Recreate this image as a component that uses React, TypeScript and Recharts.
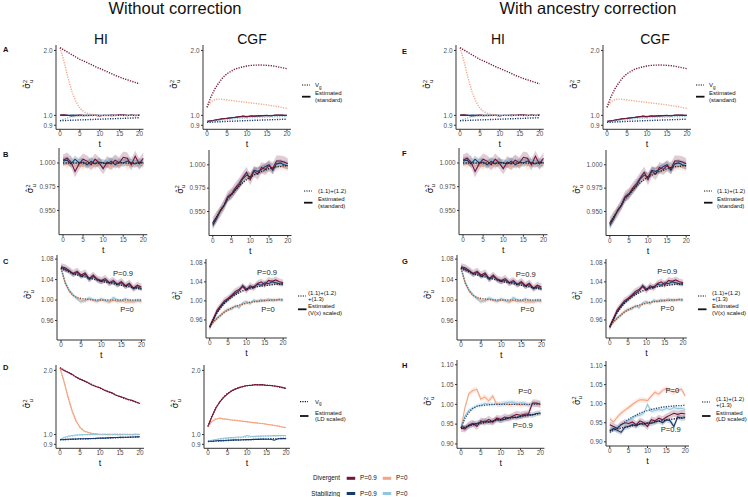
import React from "react";
import { ComposedChart, Line, Area, XAxis, YAxis } from "recharts";

// time steps
const T = [0, 1, 2, 3, 4, 5, 6, 7, 8, 9, 10, 11, 12, 13, 14, 15, 16, 17, 18, 19, 20];

// Vg (theory) - HI
const VG_HI_DIV9 = [2.06, 2.01, 1.96, 1.91, 1.865, 1.82, 1.785, 1.75, 1.715, 1.68, 1.65, 1.62, 1.59, 1.56, 1.53, 1.505, 1.48, 1.46, 1.44, 1.42, 1.4];
const VG_HI_DIV0 = [2.06, 1.78, 1.5, 1.29, 1.16, 1.08, 1.04, 1.02, 1.01, 1.005, 1.0, 1.0, 1.0, 1.0, 1.0, 1.0, 1.0, 1.0, 1.0, 1.0, 1.0];
const VG_HI_STAB9 = [0.945, 0.947, 0.948, 0.95, 0.951, 0.953, 0.954, 0.956, 0.957, 0.959, 0.96, 0.962, 0.963, 0.965, 0.966, 0.968, 0.969, 0.971, 0.972, 0.974, 0.975];
const VG_HI_STAB0 = [0.945, 0.962, 0.975, 0.984, 0.99, 0.994, 0.996, 0.998, 0.999, 1.0, 1.0, 1.0, 1.0, 1.0, 1.0, 1.0, 1.0, 1.0, 1.0, 1.0, 1.0];
// Vg (theory) - CGF
const VG_CGF_DIV9 = [1.09, 1.22, 1.33, 1.42, 1.5, 1.56, 1.6, 1.64, 1.66, 1.68, 1.695, 1.705, 1.71, 1.712, 1.71, 1.705, 1.7, 1.69, 1.675, 1.66, 1.645];
const VG_CGF_DIV0 = [1.09, 1.155, 1.185, 1.19, 1.185, 1.178, 1.172, 1.166, 1.16, 1.155, 1.148, 1.142, 1.136, 1.131, 1.125, 1.118, 1.11, 1.103, 1.095, 1.086, 1.078];
const VG_CGF_STAB9 = [0.928, 0.93, 0.932, 0.934, 0.936, 0.938, 0.939, 0.941, 0.943, 0.944, 0.946, 0.947, 0.949, 0.95, 0.952, 0.953, 0.955, 0.956, 0.957, 0.959, 0.96];
const VG_CGF_STAB0 = [0.928, 0.935, 0.941, 0.947, 0.952, 0.956, 0.96, 0.964, 0.967, 0.97, 0.972, 0.975, 0.977, 0.979, 0.98, 0.982, 0.983, 0.985, 0.986, 0.987, 0.988];

// estimated (standard) - HI
const STD_HI_DIV9 = [1.003, 1.005, 1.001, 0.991, 0.999, 1.004, 1.002, 0.998, 1.004, 1.0, 0.994, 1.001, 0.999, 1.003, 1.0, 1.006, 1.005, 0.998, 1.007, 0.999, 1.005];
const STD_HI_DIV0 = [1.001, 0.998, 1.002, 0.997, 1.0, 0.996, 1.001, 0.999, 0.997, 1.002, 0.998, 0.999, 0.996, 1.0, 0.998, 1.001, 0.997, 0.999, 1.0, 0.998, 0.999];
const STD_HI_STAB9 = [1.002, 1.003, 0.999, 1.004, 1.0, 1.001, 0.998, 1.002, 0.999, 1.001, 1.0, 0.999, 1.002, 0.998, 1.001, 1.0, 1.002, 1.0, 0.999, 1.001, 1.0];
const STD_HI_STAB0 = [1.0, 1.002, 1.004, 0.999, 1.003, 1.001, 0.998, 1.003, 1.0, 1.002, 0.997, 1.003, 1.0, 1.004, 0.999, 1.002, 1.0, 1.003, 1.001, 0.998, 1.001];
// estimated (standard) - CGF
const STD_CGF_DIV9 = [0.938, 0.944, 0.95, 0.957, 0.966, 0.969, 0.975, 0.98, 0.986, 0.992, 0.984, 0.993, 0.99, 0.997, 0.995, 0.999, 0.996, 1.004, 1.004, 1.003, 1.001];
const STD_CGF_DIV0 = [0.937, 0.945, 0.952, 0.958, 0.964, 0.97, 0.974, 0.979, 0.983, 0.987, 0.99, 0.992, 0.994, 0.996, 0.995, 0.997, 0.998, 0.997, 0.999, 0.998, 0.997];
const STD_CGF_STAB9 = [0.935, 0.942, 0.951, 0.956, 0.965, 0.968, 0.973, 0.978, 0.985, 0.989, 0.987, 0.994, 0.993, 0.995, 0.998, 1.0, 0.994, 1.001, 1.002, 1.0, 0.999];
const STD_CGF_STAB0 = [0.936, 0.946, 0.949, 0.96, 0.963, 0.971, 0.972, 0.981, 0.982, 0.99, 0.988, 0.991, 0.995, 0.994, 0.997, 0.996, 1.0, 0.999, 1.0, 1.001, 1.0];

// (1.1)+(1.2)
const TH12_HI = [1.0, 1.0, 1.0, 1.0, 1.0, 1.0, 1.0, 1.0, 1.0, 1.0, 1.0, 1.0, 1.0, 1.0, 1.0, 1.0, 1.0, 1.0, 1.0, 1.0, 1.0];
const TH12_CGF = [0.937, 0.944, 0.951, 0.957, 0.963, 0.968, 0.973, 0.977, 0.981, 0.984, 0.987, 0.989, 0.991, 0.993, 0.994, 0.996, 0.997, 0.998, 0.998, 0.999, 0.999];

// (1.1)+(1.2)+(1.3)
const TH123_HI_P9 = [1.062, 1.058, 1.055, 1.052, 1.049, 1.047, 1.045, 1.043, 1.041, 1.039, 1.037, 1.035, 1.034, 1.032, 1.03, 1.029, 1.027, 1.026, 1.024, 1.023, 1.021];
const TH123_HI_P0 = [1.062, 1.034, 1.018, 1.009, 1.005, 1.003, 1.002, 1.001, 1.0, 1.0, 1.0, 1.0, 1.0, 1.0, 1.0, 1.0, 1.0, 1.0, 1.0, 1.0, 1.0];
const TH123_CGF_P9 = [0.945, 0.962, 0.975, 0.986, 0.995, 1.002, 1.008, 1.013, 1.017, 1.021, 1.024, 1.026, 1.028, 1.03, 1.031, 1.032, 1.033, 1.034, 1.035, 1.035, 1.036];
const TH123_CGF_P0 = [0.945, 0.955, 0.963, 0.97, 0.976, 0.981, 0.985, 0.988, 0.991, 0.993, 0.995, 0.997, 0.998, 0.999, 1.0, 1.001, 1.001, 1.002, 1.002, 1.003, 1.003];

// estimated (V(x) scaled)
const VX_HI_DIV9 = [1.065, 1.063, 1.058, 1.052, 1.056, 1.049, 1.053, 1.042, 1.049, 1.041, 1.038, 1.042, 1.034, 1.038, 1.031, 1.036, 1.028, 1.033, 1.023, 1.029, 1.025];
const VX_HI_DIV0 = [1.063, 1.034, 1.018, 1.009, 1.004, 1.0, 0.998, 1.003, 0.999, 0.997, 1.0, 0.998, 0.996, 0.999, 0.997, 0.998, 0.996, 0.997, 0.996, 0.998, 0.997];
const VX_HI_STAB9 = [1.064, 1.06, 1.057, 1.05, 1.054, 1.046, 1.05, 1.04, 1.046, 1.04, 1.036, 1.039, 1.033, 1.036, 1.03, 1.034, 1.027, 1.03, 1.022, 1.026, 1.022];
const VX_HI_STAB0 = [1.064, 1.036, 1.02, 1.01, 1.002, 0.996, 1.0, 1.004, 1.001, 0.998, 1.003, 0.999, 0.997, 1.005, 1.0, 0.998, 1.003, 0.999, 0.998, 1.0, 0.999];
const VX_CGF_DIV9 = [0.946, 0.962, 0.98, 0.99, 1.0, 1.005, 1.012, 1.02, 1.024, 1.03, 1.022, 1.032, 1.027, 1.036, 1.04, 1.034, 1.043, 1.041, 1.044, 1.04, 1.038];
const VX_CGF_DIV0 = [0.946, 0.955, 0.962, 0.971, 0.977, 0.98, 0.986, 0.988, 0.99, 0.994, 0.996, 0.996, 0.999, 1.0, 0.999, 1.002, 1.0, 1.003, 1.001, 1.002, 1.002];
const VX_CGF_STAB9 = [0.944, 0.96, 0.977, 0.988, 0.997, 1.003, 1.01, 1.016, 1.021, 1.032, 1.025, 1.028, 1.03, 1.035, 1.033, 1.038, 1.036, 1.04, 1.038, 1.036, 1.035];
const VX_CGF_STAB0 = [0.945, 0.957, 0.965, 0.968, 0.978, 0.983, 0.982, 0.99, 0.985, 0.996, 0.999, 0.994, 1.002, 0.998, 1.003, 0.999, 1.004, 1.0, 1.002, 1.003, 1.0];

// estimated (LD scaled), without correction
const LD_HI_DIV9 = [2.05, 2.0, 1.96, 1.92, 1.86, 1.82, 1.79, 1.75, 1.71, 1.68, 1.66, 1.62, 1.59, 1.57, 1.53, 1.51, 1.49, 1.46, 1.45, 1.42, 1.4];
const LD_HI_DIV0 = [2.05, 1.77, 1.5, 1.3, 1.16, 1.08, 1.04, 1.025, 1.01, 1.008, 1.0, 1.003, 0.999, 1.0, 1.002, 0.998, 1.0, 1.001, 0.999, 1.0, 1.0];
const LD_HI_STAB9 = [0.948, 0.947, 0.95, 0.952, 0.953, 0.955, 0.955, 0.957, 0.958, 0.96, 0.963, 0.962, 0.965, 0.967, 0.968, 0.97, 0.971, 0.972, 0.974, 0.975, 0.977];
const LD_HI_STAB0 = [0.948, 0.968, 0.982, 0.99, 0.995, 0.998, 1.0, 1.001, 1.0, 1.002, 1.001, 1.0, 1.002, 1.001, 1.0, 1.002, 1.001, 1.0, 1.001, 1.002, 1.001];
const LD_CGF_DIV9 = [1.09, 1.21, 1.33, 1.42, 1.49, 1.55, 1.6, 1.63, 1.66, 1.68, 1.7, 1.7, 1.715, 1.71, 1.715, 1.7, 1.7, 1.69, 1.68, 1.665, 1.645];
const LD_CGF_DIV0 = [1.09, 1.15, 1.18, 1.195, 1.185, 1.18, 1.17, 1.168, 1.16, 1.153, 1.15, 1.14, 1.137, 1.13, 1.127, 1.118, 1.112, 1.102, 1.096, 1.085, 1.077];
const LD_CGF_STAB9 = [0.93, 0.928, 0.935, 0.937, 0.935, 0.94, 0.942, 0.944, 0.943, 0.946, 0.948, 0.947, 0.95, 0.949, 0.952, 0.951, 0.95, 0.94, 0.955, 0.958, 0.957];
const LD_CGF_STAB0 = [0.93, 0.94, 0.948, 0.955, 0.96, 0.965, 0.968, 0.971, 0.974, 0.976, 0.99, 0.979, 0.981, 0.983, 0.984, 0.985, 0.987, 0.988, 0.989, 0.99, 0.99];

// with ancestry correction (panel H)
const THH_HI_P9 = [0.94, 0.943, 0.946, 0.948, 0.95, 0.952, 0.954, 0.956, 0.958, 0.96, 0.961, 0.963, 0.965, 0.966, 0.968, 0.969, 0.971, 0.972, 0.974, 0.975, 0.977];
const THH_HI_P0 = [0.94, 0.965, 0.98, 0.99, 0.995, 0.997, 0.998, 0.999, 1.0, 1.0, 1.0, 1.0, 1.0, 1.0, 1.0, 1.0, 1.0, 1.0, 1.0, 1.0, 1.0];
const LDH_HI_DIV9 = [0.94, 0.938, 0.948, 0.952, 0.944, 0.958, 0.955, 0.962, 0.955, 0.965, 0.962, 0.968, 0.965, 0.97, 0.975, 0.972, 0.975, 0.976, 1.003, 1.003, 1.0];
const LDH_HI_DIV0 = [0.939, 0.992, 1.027, 1.035, 1.038, 1.013, 1.019, 1.009, 1.021, 1.0, 1.001, 1.002, 0.999, 1.0, 1.001, 0.998, 1.0, 0.999, 1.001, 1.0, 0.999];
const LDH_HI_STAB9 = [0.945, 0.94, 0.946, 0.95, 0.952, 0.955, 0.958, 0.955, 0.957, 0.962, 0.96, 0.962, 0.966, 0.968, 0.966, 0.97, 0.972, 0.974, 0.973, 0.977, 0.978];
const LDH_HI_STAB0 = [0.94, 0.97, 0.985, 0.99, 0.996, 0.998, 1.002, 1.001, 0.999, 1.002, 1.0, 1.003, 1.005, 1.006, 1.002, 1.004, 1.003, 0.998, 1.003, 1.002, 1.004];
const THH_CGF_P9 = [0.93, 0.932, 0.934, 0.936, 0.938, 0.94, 0.942, 0.944, 0.946, 0.948, 0.949, 0.951, 0.953, 0.954, 0.956, 0.957, 0.959, 0.96, 0.962, 0.963, 0.965];
const THH_CGF_P0 = [0.925, 0.93, 0.937, 0.945, 0.952, 0.959, 0.965, 0.97, 0.975, 0.979, 0.982, 0.985, 0.987, 0.989, 0.991, 0.992, 0.993, 0.994, 0.995, 0.995, 0.996];
const LDH_CGF_DIV9 = [0.945, 0.94, 0.935, 0.945, 0.95, 0.948, 0.952, 0.945, 0.955, 0.95, 0.94, 0.958, 0.955, 0.962, 0.958, 0.965, 0.97, 0.975, 0.972, 0.975, 0.973];
const LDH_CGF_DIV0 = [0.96, 0.952, 0.965, 0.975, 0.983, 0.99, 0.998, 1.005, 1.01, 1.01, 1.008, 1.02, 1.03, 1.025, 1.035, 1.04, 1.033, 1.03, 1.035, 1.038, 1.02];
const LDH_CGF_STAB9 = [0.928, 0.935, 0.93, 0.925, 0.938, 0.94, 0.945, 0.942, 0.948, 0.946, 0.95, 0.948, 0.952, 0.955, 0.95, 0.958, 0.955, 0.94, 0.965, 0.962, 0.963];
const LDH_CGF_STAB0 = [0.93, 0.935, 0.94, 0.945, 0.95, 0.955, 0.962, 0.968, 0.97, 0.975, 0.998, 0.98, 0.982, 0.985, 0.983, 0.988, 0.985, 0.99, 0.987, 0.988, 0.985];

const C = {
  div9: "#72163a",
  div0: "#f4a582",
  stab9: "#163a6c",
  stab0: "#92c5de",
};
const FONT = "Liberation Sans, Arial, sans-serif";

type Series = { values: number[]; color: string; dotted?: boolean; se?: number };
type PanelProps = {
  box: number[];
  domain: number[];
  ticks: number[];
  digits: number;
  log?: boolean;
  series: Series[];
};

const ML = 40;
const MT = 3;
const MR = 3;
const XH = 24;

function Panel({ box, domain, ticks, digits, log, series }: PanelProps) {
  const [l, r, t, b] = box;
  const data = T.map((tt, i) => {
    const row: any = { t: tt };
    series.forEach((s, k) => {
      row["s" + k] = s.values[i];
      if (s.se) row["r" + k] = [s.values[i] - s.se, s.values[i] + s.se];
    });
    return row;
  });
  const tickStyle = { fontSize: 6.4, fill: "#4d4d4d", fontFamily: FONT };
  return (
    <div style={{ position: "absolute", left: l - ML, top: t - MT }}>
      <ComposedChart
        width={r - l + ML + MR}
        height={b - t + MT + XH}
        data={data}
        margin={{ top: MT, right: MR, left: 0, bottom: 0 }}
      >
        <XAxis
          dataKey="t"
          type="number"
          domain={[-1, 21]}
          ticks={[0, 5, 10, 15, 20]}
          interval={0}
          allowDataOverflow
          height={XH}
          tick={tickStyle}
          tickSize={2}
          tickMargin={0.5}
          axisLine={{ stroke: "#333", strokeWidth: 1 }}
          tickLine={{ stroke: "#333" }}
          label={{ value: "t", position: "insideBottom", offset: 6, fontSize: 9, fill: "#111", fontFamily: FONT }}
        />
        <YAxis
          type="number"
          domain={domain}
          scale={log ? "log" : "auto"}
          ticks={ticks}
          interval={0}
          allowDataOverflow
          width={ML}
          tick={tickStyle}
          tickSize={2}
          tickMargin={1.5}
          axisLine={{ stroke: "#333", strokeWidth: 1 }}
          tickLine={{ stroke: "#333" }}
          tickFormatter={(v: number) => v.toFixed(digits)}
        />
        {series.map((s, k) =>
          s.se ? (
            <Area
              key={"r" + k}
              dataKey={"r" + k}
              stroke="none"
              fill={s.color}
              fillOpacity={0.22}
              isAnimationActive={false}
            />
          ) : null
        )}
        {series.map((s, k) =>
          !s.dotted ? (
            <Line
              key={"s" + k}
              dataKey={"s" + k}
              stroke={s.color}
              strokeWidth={1.1}
              dot={false}
              activeDot={false}
              isAnimationActive={false}
            />
          ) : null
        )}
        {series.map((s, k) =>
          s.dotted ? (
            <Line
              key={"d" + k}
              dataKey={"s" + k}
              stroke={s.color}
              strokeWidth={1.4}
              strokeDasharray="1.2 1.3"
              dot={false}
              activeDot={false}
              isAnimationActive={false}
            />
          ) : null
        )}
      </ComposedChart>
    </div>
  );
}

const LOG_DOM = [0.862, 2.12];
const LOG_TICKS = [0.9, 1, 2];
const B_DOM = [0.9244, 1.0158];
const B_TICKS = [0.95, 0.975, 1];
const C_DOM = [0.922, 1.088];
const C_TICKS = [0.96, 1.0, 1.04, 1.08];
const H_DOM = [0.889, 1.112];
const H_TICKS = [0.9, 0.95, 1.0, 1.05, 1.1];

const solids = (a: number[], b: number[], c: number[], d: number[], se?: number[]): Series[] => [
  { values: b, color: C.div0, se: se ? se[1] : undefined },
  { values: d, color: C.stab0, se: se ? se[3] : undefined },
  { values: c, color: C.stab9, se: se ? se[2] : undefined },
  { values: a, color: C.div9, se: se ? se[0] : undefined },
];
const dots = (a: number[], b: number[], c: number[], d: number[]): Series[] => [
  { values: b, color: C.div0, dotted: true },
  { values: d, color: C.stab0, dotted: true },
  { values: a, color: C.div9, dotted: true },
  { values: c, color: C.stab9, dotted: true },
];

const SE_B = [0.006, 0.004, 0.004, 0.004];
const SE_C = [0.007, 0.004, 0.005, 0.004];
const SE_H = [0.009, 0.007, 0.007, 0.006];

const A_HI = [...solids(STD_HI_DIV9, STD_HI_DIV0, STD_HI_STAB9, STD_HI_STAB0), ...dots(VG_HI_DIV9, VG_HI_DIV0, VG_HI_STAB9, VG_HI_STAB0)];
const A_CGF = [...solids(STD_CGF_DIV9, STD_CGF_DIV0, STD_CGF_STAB9, STD_CGF_STAB0), ...dots(VG_CGF_DIV9, VG_CGF_DIV0, VG_CGF_STAB9, VG_CGF_STAB0)];
const B_HI = [...solids(STD_HI_DIV9, STD_HI_DIV0, STD_HI_STAB9, STD_HI_STAB0, SE_B), { values: TH12_HI, color: "#222", dotted: true }];
const B_CGF = [...solids(STD_CGF_DIV9, STD_CGF_DIV0, STD_CGF_STAB9, STD_CGF_STAB0, SE_B), { values: TH12_CGF, color: "#222", dotted: true }];
const C_HI = [
  ...solids(VX_HI_DIV9, VX_HI_DIV0, VX_HI_STAB9, VX_HI_STAB0, SE_C),
  { values: TH123_HI_P0, color: "#8a5a3c", dotted: true },
  { values: TH123_HI_P9, color: "#1a1a2a", dotted: true },
];
const C_CGF = [
  ...solids(VX_CGF_DIV9, VX_CGF_DIV0, VX_CGF_STAB9, VX_CGF_STAB0, SE_C),
  { values: TH123_CGF_P0, color: "#8a5a3c", dotted: true },
  { values: TH123_CGF_P9, color: "#1a1a2a", dotted: true },
];
const D_HI = [...solids(LD_HI_DIV9, LD_HI_DIV0, LD_HI_STAB9, LD_HI_STAB0), ...dots(VG_HI_DIV9, VG_HI_DIV0, VG_HI_STAB9, VG_HI_STAB0)];
const D_CGF = [...solids(LD_CGF_DIV9, LD_CGF_DIV0, LD_CGF_STAB9, LD_CGF_STAB0), ...dots(VG_CGF_DIV9, VG_CGF_DIV0, VG_CGF_STAB9, VG_CGF_STAB0)];
const H_HI = [
  ...solids(LDH_HI_DIV9, LDH_HI_DIV0, LDH_HI_STAB9, LDH_HI_STAB0, SE_H),
  { values: THH_HI_P0, color: "#2a4a74", dotted: true },
  { values: THH_HI_P9, color: "#1a1a2a", dotted: true },
];
const H_CGF = [
  ...solids(LDH_CGF_DIV9, LDH_CGF_DIV0, LDH_CGF_STAB9, LDH_CGF_STAB0, SE_H),
  { values: THH_CGF_P0, color: "#2a4a74", dotted: true },
  { values: THH_CGF_P9, color: "#1a1a2a", dotted: true },
];

// plot boxes: [left, right, top, bottom]
const PANELS = [
  { box: [56, 143.5, 45, 129.3], domain: LOG_DOM, ticks: LOG_TICKS, digits: 1, log: true, series: A_HI },
  { box: [203.3, 291.3, 45, 129.3], domain: LOG_DOM, ticks: LOG_TICKS, digits: 1, log: true, series: A_CGF },
  { box: [59, 147.3, 148.3, 235], domain: B_DOM, ticks: B_TICKS, digits: 3, series: B_HI },
  { box: [208.5, 291, 149.5, 235], domain: B_DOM, ticks: B_TICKS, digits: 3, series: B_CGF },
  { box: [57.3, 145.8, 255, 340], domain: C_DOM, ticks: C_TICKS, digits: 2, series: C_HI },
  { box: [205.6, 286.4, 259, 338], domain: C_DOM, ticks: C_TICKS, digits: 2, series: C_CGF },
  { box: [56, 144, 365, 448.3], domain: LOG_DOM, ticks: LOG_TICKS, digits: 1, log: true, series: D_HI },
  { box: [204, 290, 365, 448.3], domain: LOG_DOM, ticks: LOG_TICKS, digits: 1, log: true, series: D_CGF },
  { box: [456, 543.7, 45, 129.3], domain: LOG_DOM, ticks: LOG_TICKS, digits: 1, log: true, series: A_HI },
  { box: [603.3, 691.3, 45, 129.3], domain: LOG_DOM, ticks: LOG_TICKS, digits: 1, log: true, series: A_CGF },
  { box: [458.5, 547, 148.3, 235], domain: B_DOM, ticks: B_TICKS, digits: 3, series: B_HI },
  { box: [606, 690, 149.5, 235], domain: B_DOM, ticks: B_TICKS, digits: 3, series: B_CGF },
  { box: [457.3, 545.8, 255, 340], domain: C_DOM, ticks: C_TICKS, digits: 2, series: C_HI },
  { box: [605.6, 686.4, 259, 338], domain: C_DOM, ticks: C_TICKS, digits: 2, series: C_CGF },
  { box: [457.3, 544.7, 360, 448.3], domain: H_DOM, ticks: H_TICKS, digits: 2, series: H_HI },
  { box: [605.5, 688.5, 361, 446], domain: H_DOM, ticks: H_TICKS, digits: 2, series: H_CGF },
];

const LETTERS = [
  ["A", 3, 52], ["B", 3, 157], ["C", 3, 263.5], ["D", 3, 369.5],
  ["E", 402, 53.5], ["F", 402, 156], ["G", 402, 263.5], ["H", 402, 367.5],
];

const NOTES = [
  ["P=0.9", 123, 273], ["P=0", 127, 309], ["P=0.9", 267, 272], ["P=0", 268, 309],
  ["P=0.9", 525.7, 274], ["P=0", 527.3, 309.3], ["P=0.9", 667.3, 271.7], ["P=0", 667.3, 308.3],
  ["P=0", 525, 391], ["P=0.9", 522.7, 425], ["P=0", 672.3, 390.7], ["P=0.9", 670.7, 429.3],
];

function YLabel({ x, y }: { x: number; y: number }) {
  return (
    <text transform={`translate(${x},${y}) rotate(-90)`} textAnchor="middle" fontFamily="DejaVu Sans, sans-serif" fontSize={8.5} fill="#111">
      {"σ\u0302"}
      <tspan fontSize={5.5} dy={-3.5}>2</tspan>
      <tspan fontSize={5.5} dx={-3.3} dy={6}>u</tspan>
    </text>
  );
}

// side legend: dotted label lines, solid label lines
function SideLegend({ x, yDot, ySolid, dotLines, solidLines, tx, vg }: any) {
  return (
    <g fontFamily={FONT} fontSize={6} fill="#111">
      <line x1={x} x2={x + 8} y1={yDot} y2={yDot} stroke="#111" strokeWidth={1.2} strokeDasharray="1.2 1.2" />
      <line x1={x} x2={x + 8.5} y1={ySolid} y2={ySolid} stroke="#111" strokeWidth={1.8} />
      {vg ? (
        <text x={tx} y={yDot + 2}>
          V<tspan fontSize={4.5} dy={1.5}>g</tspan>
        </text>
      ) : (
        dotLines.map((s: string, i: number) => (
          <text key={s} x={tx} y={yDot - (dotLines.length - 1) * 3.3 + i * 6.6 + 2}>
            {s}
          </text>
        ))
      )}
      {solidLines.map((s: string, i: number) => (
        <text key={s} x={tx} y={ySolid - 3.3 + i * 6.6 + 2}>
          {s}
        </text>
      ))}
    </g>
  );
}

export default function App() {
  return (
    <div style={{ position: "absolute", left: 0, top: 0, width: 748, height: 497, background: "#fff", overflow: "hidden" }}>
      {PANELS.map((p, i) => (
        <Panel key={i} {...p} />
      ))}
      <svg width={748} height={497} style={{ position: "absolute", left: 0, top: 0, pointerEvents: "none" }}>
        <g fontFamily={FONT} fill="#111" textAnchor="middle">
          <text x={175} y={13.5} fontSize={16.5}>Without correction</text>
          <text x={588} y={13.5} fontSize={16.5}>With ancestry correction</text>
          <text x={101} y={44} fontSize={14}>HI</text>
          <text x={252} y={44} fontSize={14}>CGF</text>
          <text x={498} y={44} fontSize={14}>HI</text>
          <text x={655} y={44} fontSize={14}>CGF</text>
        </g>
        <g fontFamily={FONT} fontWeight="bold" fontSize={7.5} fill="#111">
          {LETTERS.map(([s, x, y]) => (
            <text key={s as string} x={x as number} y={y as number}>{s}</text>
          ))}
        </g>
        {PANELS.map((p, i) => (
          <YLabel key={i} x={p.box[0] - 26} y={(p.box[2] + p.box[3]) / 2 - 3} />
        ))}
        <g fontFamily={FONT} fontSize={7.6} fill="#222" textAnchor="middle">
          {NOTES.map(([s, x, y], i) => (
            <text key={i} x={x as number} y={(y as number) + 2.7}>{s}</text>
          ))}
        </g>
        <SideLegend x={302} yDot={85} ySolid={96.7} tx={315} vg solidLines={["Estimated", "(standard)"]} />
        <SideLegend x={304} yDot={191} ySolid={202.7} tx={318} dotLines={["(1.1)+(1.2)"]} solidLines={["Estimated", "(standard)"]} />
        <SideLegend x={298} yDot={296} ySolid={309.3} tx={308} dotLines={["(1.1)+(1.2)", "+(1.3)"]} solidLines={["Estimated", "(V(x) scaled)"]} />
        <SideLegend x={300} yDot={401.7} ySolid={416} tx={315} vg solidLines={["Estimated", "(LD scaled)"]} />
        <SideLegend x={696} yDot={85} ySolid={96.7} tx={709} vg solidLines={["Estimated", "(standard)"]} />
        <SideLegend x={704} yDot={191} ySolid={202.7} tx={717} dotLines={["(1.1)+(1.2)"]} solidLines={["Estimated", "(standard)"]} />
        <SideLegend x={698} yDot={296} ySolid={309.3} tx={712} dotLines={["(1.1)+(1.2)", "+(1.3)"]} solidLines={["Estimated", "(V(x) scaled)"]} />
        <SideLegend x={702} yDot={402} ySolid={416} tx={716} dotLines={["(1.1)+(1.2)", "+(1.3)"]} solidLines={["Estimated", "(LD scaled)"]} />
        <g fontFamily={FONT} fontSize={6.3} fill="#111">
          <text x={340} y={480.3} textAnchor="end">Divergent</text>
          <rect x={346.7} y={476.8} width={8.5} height={3} fill={C.div9} />
          <text x={360} y={480.3}>P=0.9</text>
          <rect x={382.7} y={476.8} width={8.5} height={3} fill={C.div0} />
          <text x={396} y={480.3}>P=0</text>
          <text x={340} y={495.5} textAnchor="end">Stabilizing</text>
          <rect x={346.7} y={492} width={8.5} height={3} fill={C.stab9} />
          <text x={360} y={495.5}>P=0.9</text>
          <rect x={382.7} y={492} width={8.5} height={3} fill={C.stab0} />
          <text x={396} y={495.5}>P=0</text>
        </g>
      </svg>
    </div>
  );
}
